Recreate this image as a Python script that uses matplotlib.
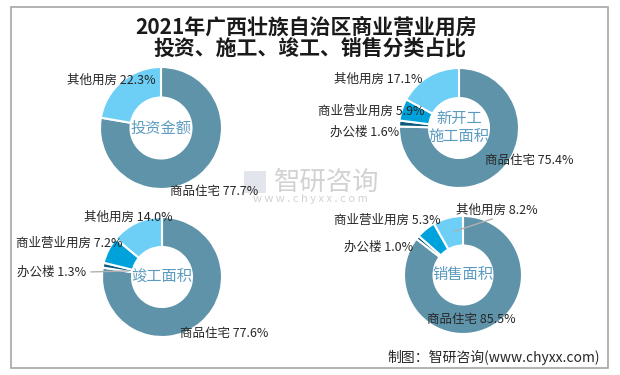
import matplotlib
matplotlib.use('Agg')
import matplotlib.pyplot as plt
from matplotlib.patches import Rectangle
import numpy as np

plt.rcParams['font.family'] = ['Noto Sans CJK SC', 'DejaVu Sans']

# ---------------- data ----------------
title_lines = ['2021年广西壮族自治区商业营业用房', '投资、施工、竣工、销售分类占比']

invest_cats = ['商品住宅', '其他用房']
invest_vals = [77.7, 22.3]

area_cats = ['商品住宅', '办公楼', '商业营业用房', '其他用房']
new_start_vals = [75.4, 1.6, 5.9, 17.1]
completed_vals = [77.6, 1.3, 7.2, 14.0]
sales_vals = [85.5, 1.0, 5.3, 8.2]

chart_names = ['投资金额', '新开工\n施工面积', '竣工面积', '销售面积']
source_text = '制图：智研咨询(www.chyxx.com)'

# ---------------- style / layout ----------------
W, H = 620, 375
colors = {'商品住宅': '#5e93a9', '办公楼': '#0b5a7a',
          '商业营业用房': '#00a2dc', '其他用房': '#6dcff6'}
center_color = '#5b9bc0'
label_color = '#262626'

fig = plt.figure(figsize=(W / 100, H / 100), dpi=100)


def fx(x):
    return x / W


def fy(y):
    return 1 - y / H


# outer frame
fig.patches.append(Rectangle((fx(11), fy(368)), (608 - 11) / W, (368 - 7) / H,
                             transform=fig.transFigure, fill=False,
                             ec='#a6a6a6', lw=1.2))

# title
fig.text(fx(306), fy(27), title_lines[0], ha='center', va='center',
         fontsize=15, fontweight='bold', color='#1a1a1a')
fig.text(fx(310), fy(48), title_lines[1], ha='center', va='center',
         fontsize=15, fontweight='bold', color='#1a1a1a')

# watermark
fig.patches.append(Rectangle((fx(244), fy(193)), 22 / W, 22 / H,
                             transform=fig.transFigure, fill=True,
                             fc='#e2e6ec', ec='none', zorder=0))
fig.text(fx(327), fy(182), '智研咨询', ha='center', va='center',
         fontsize=19, color='#d2d2d2', zorder=0)
fig.text(fx(310), fy(199), 'w w w . c h y x x . c o m', ha='center', va='center',
         fontsize=8, color='#d2d2d2', zorder=0)


def draw_donut(cx, cy, r, cats, vals, name, labels, leaders=None):
    ax = fig.add_axes([fx(cx - r), fy(cy + r), 2 * r / W, 2 * r / H])
    wedges, _ = ax.pie(vals, colors=[colors[c] for c in cats], startangle=90,
                       counterclock=False, radius=1.0,
                       wedgeprops=dict(width=0.5, edgecolor='white', linewidth=1.5))
    ax.set_xlim(-1, 1)
    ax.set_ylim(-1, 1)
    ax.axis('off')
    ax.text(0, 0, name, ha='center', va='center', fontsize=11,
            color=center_color, linespacing=1.1)
    for cat, val in zip(cats, vals):
        x, y, ha = labels[cat]
        fig.text(fx(x), fy(y), f'{cat} {val:.1f}%', ha=ha, va='center',
                 fontsize=9, color=label_color)
    if leaders:
        for cat, (rr, tx, ty) in leaders.items():
            w = wedges[cats.index(cat)]
            mid = np.deg2rad((w.theta1 + w.theta2) / 2)
            ax.annotate('', xy=(rr * np.cos(mid), rr * np.sin(mid)),
                        xytext=(fx(tx), fy(ty)), textcoords='figure fraction',
                        arrowprops=dict(arrowstyle='-', color='#b0b0b0', lw=1),
                        annotation_clip=False)
    return ax


draw_donut(161, 128, 61, invest_cats, invest_vals, chart_names[0],
           {'其他用房': (156, 80, 'right'), '商品住宅': (170, 191, 'left')})

draw_donut(459, 128, 60, area_cats, new_start_vals, chart_names[1],
           {'其他用房': (422, 79, 'right'), '商业营业用房': (424, 111, 'right'),
            '办公楼': (399, 132, 'right'), '商品住宅': (485, 160, 'left')})

draw_donut(162, 277, 60, area_cats, completed_vals, chart_names[2],
           {'其他用房': (173, 217, 'right'), '商业营业用房': (123, 243, 'right'),
            '办公楼': (86, 272, 'right'), '商品住宅': (180, 333, 'left')},
           leaders={'办公楼': (0.52, 88, 272)})

draw_donut(463, 275, 59, area_cats, sales_vals, chart_names[3],
           {'其他用房': (456, 210, 'left'), '商业营业用房': (441, 220, 'right'),
            '办公楼': (413, 247, 'right'), '商品住宅': (427, 319, 'left')},
           leaders={'其他用房': (0.75, 495, 218)})

fig.text(fx(600), fy(357), source_text, ha='right', va='center',
         fontsize=10, color='#262626')

fig.savefig('out.png', dpi=100)
